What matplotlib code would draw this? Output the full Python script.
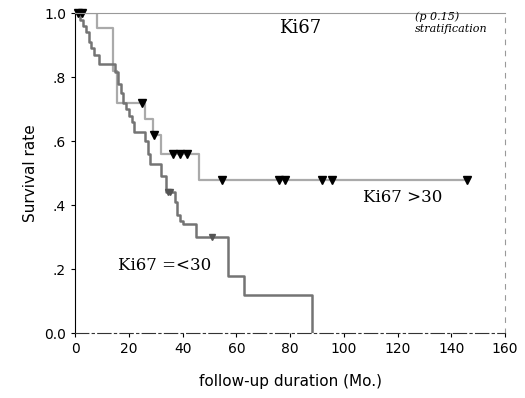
import matplotlib
matplotlib.use("Agg")
import matplotlib.pyplot as plt

# Kaplan-Meier steps
hi_t = [0, 8, 14, 15.5, 26, 29, 32, 46, 146]
hi_s = [1.0, 0.955, 0.82, 0.72, 0.67, 0.62, 0.56, 0.48, 0.48]
hi_cens_t = [1, 2.5, 25, 29.5, 36.5, 39, 41.5, 54.5, 76, 78, 92, 95.5, 145.8]

lo_t = [0, 2, 3, 4, 5, 6, 7, 9, 15, 16, 17, 18, 19, 20, 21, 22, 26, 27, 28,
        32, 34, 37, 38, 39, 40, 45, 57, 63, 88]
lo_s = [1.0, 0.98, 0.96, 0.94, 0.91, 0.89, 0.87, 0.84, 0.815, 0.78, 0.75,
        0.72, 0.70, 0.68, 0.66, 0.63, 0.60, 0.56, 0.53, 0.49, 0.44, 0.41,
        0.37, 0.35, 0.34, 0.30, 0.18, 0.12, 0.0]
lo_cens_t = [34.5, 35.5, 51]

x_ticks = [0, 20, 40, 60, 80, 100, 120, 140, 160]
y_ticks = [0.0, 0.2, 0.4, 0.6, 0.8, 1.0]
y_labels = ['0.0', '.2', '.4', '.6', '.8', '1.0']


def surv_at(times, surv, t):
    val = surv[0]
    for ti, si in zip(times, surv):
        if ti <= t:
            val = si
    return val


fig = plt.figure(figsize=(5.25, 3.98), dpi=100)
ax = fig.add_axes([0.143, 0.163, 0.819, 0.804])

ax.step(hi_t, hi_s, where='post', color='#aaaaaa', linewidth=1.6)
ax.step(lo_t, lo_s, where='post', color='#747474', linewidth=1.8)

ax.plot(hi_cens_t, [surv_at(hi_t, hi_s, t) for t in hi_cens_t], 'v',
        color='black', markersize=6, clip_on=False)
ax.plot(lo_cens_t, [surv_at(lo_t, lo_s, t) for t in lo_cens_t], 'v',
        color='#555555', markersize=5, clip_on=False)

ax.set_xlim(0, 160)
ax.set_ylim(0, 1.0)
ax.set_xticks(x_ticks)
ax.set_yticks(y_ticks)
ax.set_yticklabels(y_labels)
ax.tick_params(labelsize=10, length=3, direction='out')

ax.spines['left'].set_color('black')
ax.spines['bottom'].set_color('#333333')
ax.spines['bottom'].set_linestyle((0, (12, 3, 2, 3)))
ax.spines['top'].set_color('#999999')
ax.spines['right'].set_color('#999999')
ax.spines['right'].set_linestyle((0, (4, 6)))

ax.set_xlabel('follow-up duration (Mo.)', fontsize=11, labelpad=13)
ax.set_ylabel('Survival rate', fontsize=11, labelpad=4)

ax.text(83.7, 0.955, 'Ki67', family='serif', fontsize=13, ha='center', va='center')
ax.text(122, 0.425, 'Ki67 >30', family='serif', fontsize=12, ha='center', va='center')
ax.text(33.5, 0.21, 'Ki67 =<30', family='serif', fontsize=12, ha='center', va='center')
ax.text(126.5, 0.99, '(p 0.15)', family='serif', style='italic', fontsize=8,
        ha='left', va='center')
ax.text(126.5, 0.95, 'stratification', family='serif', style='italic', fontsize=8,
        ha='left', va='center')

plt.savefig('out.png', dpi=100)
